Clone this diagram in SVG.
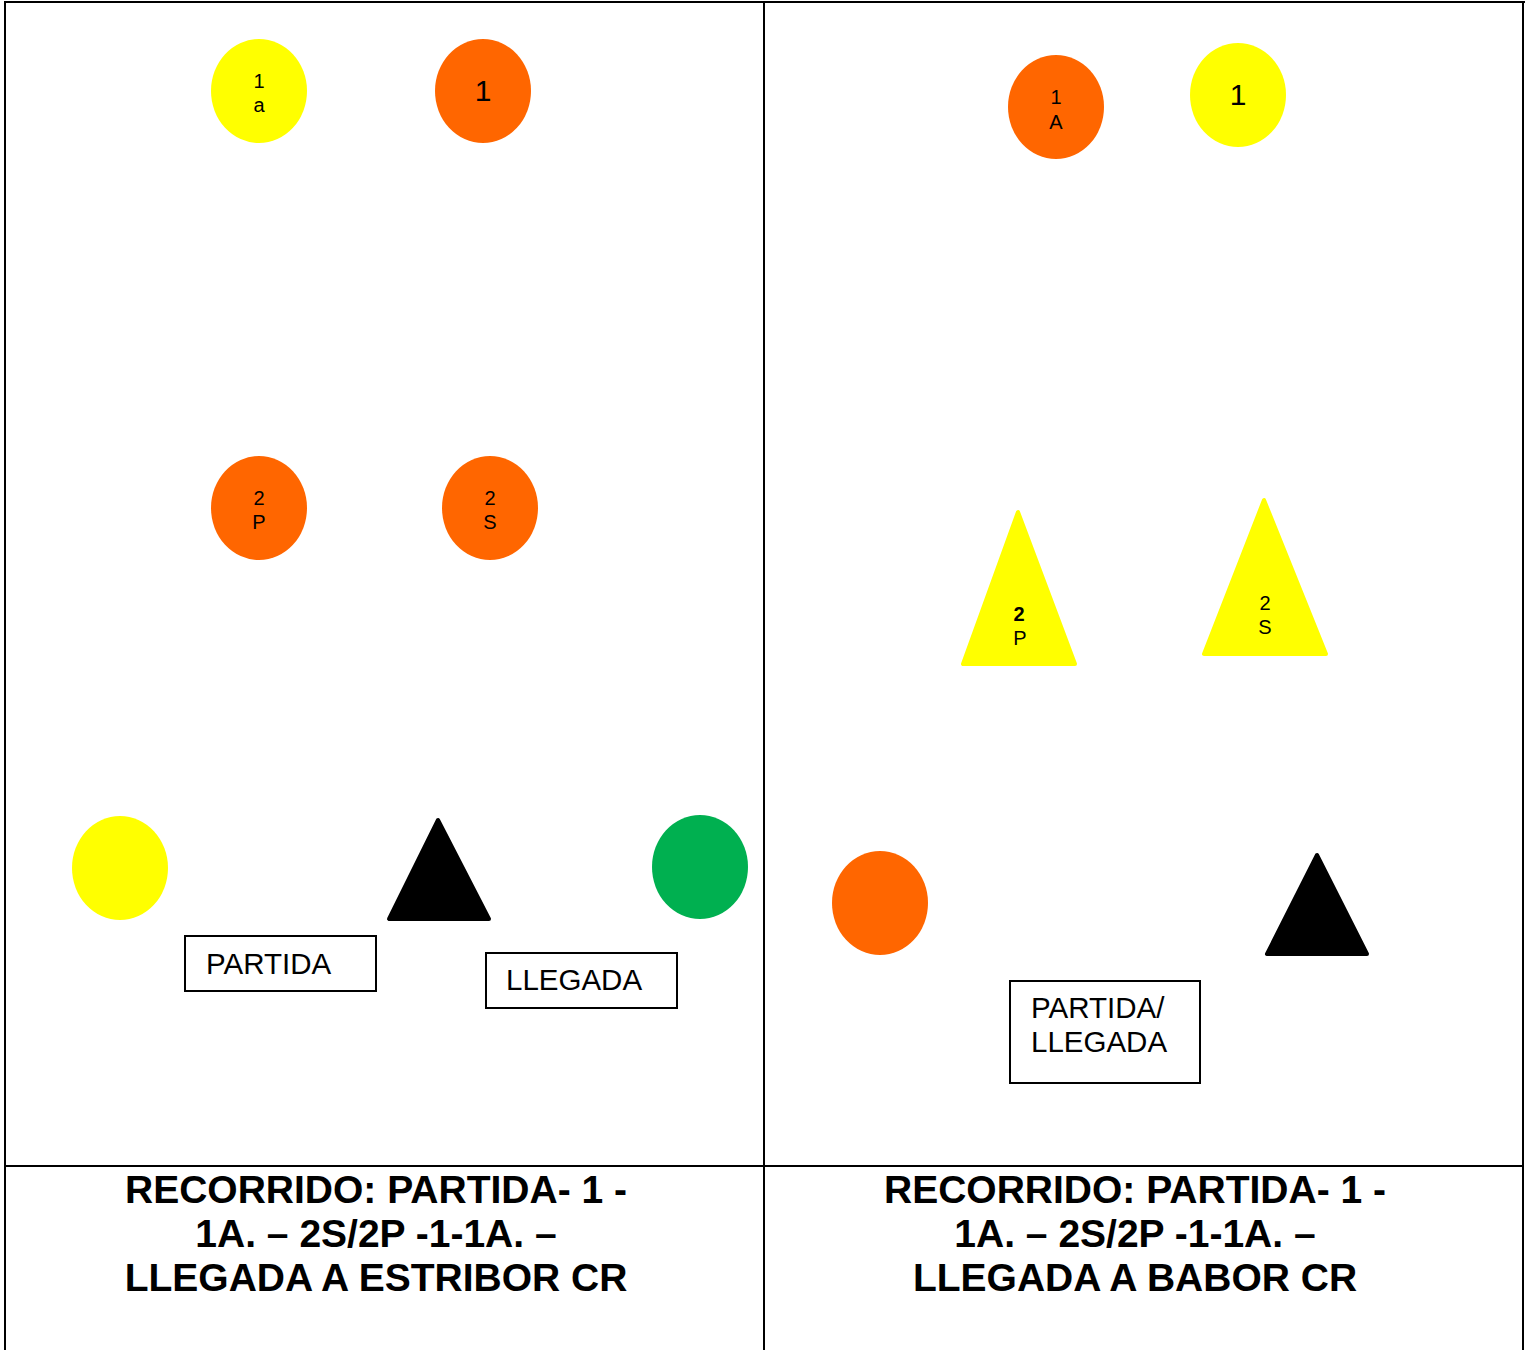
<svg xmlns="http://www.w3.org/2000/svg" width="1529" height="1350" viewBox="0 0 1529 1350">
<style>
.t{font-family:"Liberation Sans",Arial,sans-serif;fill:#000;text-anchor:middle}
.s{font-size:20px}
.b{font-size:30px}
.l{font-family:"Liberation Sans",Arial,sans-serif;font-size:29.5px;fill:#000}
.ttl{font-family:"Liberation Sans",Arial,sans-serif;font-size:39px;font-weight:bold;fill:#000;text-anchor:middle}
.box{fill:#fff;stroke:#000;stroke-width:2}
.y{fill:#ffff00}.o{fill:#ff6600}.g{fill:#00b050}.k{fill:#000}
.tri{stroke-linejoin:round;stroke-width:4}
</style>
<rect width="1529" height="1350" fill="#fff"/>
<g id="grid" stroke="#000" stroke-width="2" fill="none">
<line x1="4" y1="2" x2="1525" y2="2"/>
<line x1="5" y1="1" x2="5" y2="1350"/>
<line x1="764" y1="1" x2="764" y2="1350"/>
<line x1="1523" y1="1" x2="1523" y2="1350"/>
<line x1="4" y1="1166" x2="1524" y2="1166"/>
</g>
<g id="n-1a-left"><ellipse class="y" cx="259" cy="91" rx="48" ry="52"/><text class="t s" x="259" y="88">1</text><text class="t s" x="259" y="112">a</text></g>
<g id="n-1-left"><ellipse class="o" cx="483" cy="91" rx="48" ry="52"/><text class="t b" x="483" y="101">1</text></g>
<g id="n-2p-left"><ellipse class="o" cx="259" cy="508" rx="48" ry="52"/><text class="t s" x="259" y="505">2</text><text class="t s" x="259" y="529">P</text></g>
<g id="n-2s-left"><ellipse class="o" cx="490" cy="508" rx="48" ry="52"/><text class="t s" x="490" y="505">2</text><text class="t s" x="490" y="529">S</text></g>
<g id="n-yellow-left"><ellipse class="y" cx="120" cy="868" rx="48" ry="52"/></g>
<g id="n-black-left"><polygon class="k tri" stroke="#000" points="438,820 389,919 489,919"/></g>
<g id="n-green-left"><ellipse class="g" cx="700" cy="867" rx="48" ry="52"/></g>
<g id="n-partida"><rect class="box" x="185" y="936" width="191" height="55"/><text class="l" x="206" y="974">PARTIDA</text></g>
<g id="n-llegada"><rect class="box" x="486" y="953" width="191" height="55"/><text class="l" x="506" y="990">LLEGADA</text></g>
<g id="n-1a-right"><ellipse class="o" cx="1056" cy="107" rx="48" ry="52"/><text class="t s" x="1056" y="104">1</text><text class="t s" x="1056" y="129">A</text></g>
<g id="n-1-right"><ellipse class="y" cx="1238" cy="95" rx="48" ry="52"/><text class="t b" x="1238" y="105">1</text></g>
<g id="n-2p-right"><polygon class="y tri" stroke="#ffff00" points="1018,512 963,664 1075,664"/><text class="t s" x="1019" y="621" font-weight="bold">2</text><text class="t s" x="1020" y="645">P</text></g>
<g id="n-2s-right"><polygon class="y tri" stroke="#ffff00" points="1264,500 1204,654 1326,654"/><text class="t s" x="1265" y="610">2</text><text class="t s" x="1265" y="634">S</text></g>
<g id="n-orange-right"><ellipse class="o" cx="880" cy="903" rx="48" ry="52"/></g>
<g id="n-black-right"><polygon class="k tri" stroke="#000" points="1317,855 1267,954 1367,954"/></g>
<g id="n-partida-llegada"><rect class="box" x="1010" y="981" width="190" height="102"/><text class="l" x="1031" y="1018">PARTIDA/</text><text class="l" x="1031" y="1052">LLEGADA</text></g>
<g id="caption-left"><text class="ttl" x="376" y="1203">RECORRIDO: PARTIDA- 1 -</text><text class="ttl" x="376" y="1247">1A. – 2S/2P -1-1A. –</text><text class="ttl" x="376" y="1291">LLEGADA A ESTRIBOR CR</text></g>
<g id="caption-right"><text class="ttl" x="1135" y="1203">RECORRIDO: PARTIDA- 1 -</text><text class="ttl" x="1135" y="1247">1A. – 2S/2P -1-1A. –</text><text class="ttl" x="1135" y="1291">LLEGADA A BABOR CR</text></g>
<g id="connectors"></g>
</svg>
